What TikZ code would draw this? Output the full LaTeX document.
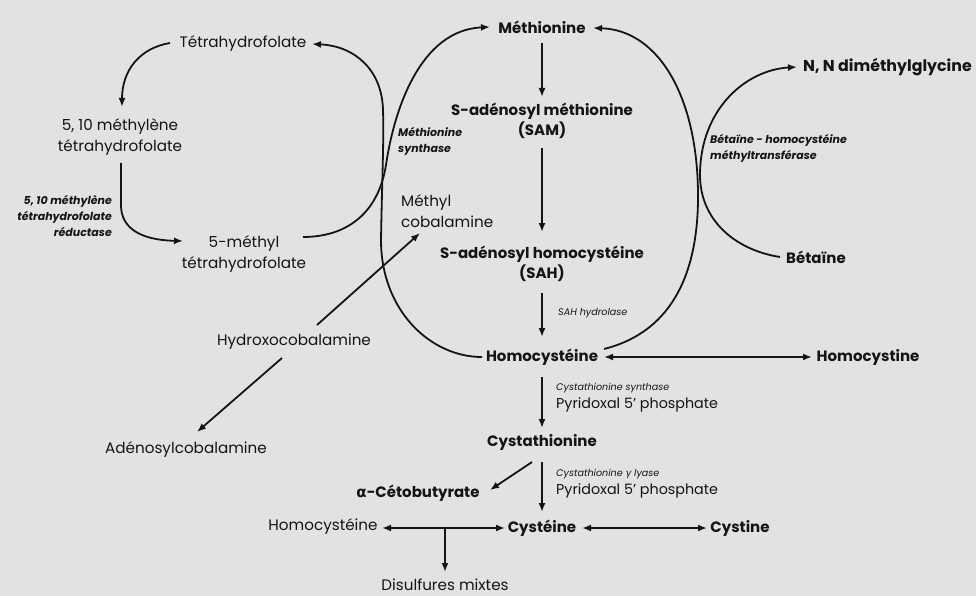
\documentclass[tikz,border=0pt]{standalone}
\usepackage{fontspec}
\setmainfont{Poppins}
\newfontfamily\grk{DejaVu Sans}
\usetikzlibrary{arrows.meta,calc}
\definecolor{paper}{RGB}{226,226,226}
\definecolor{ink}{RGB}{20,20,20}
\begin{document}
\begin{tikzpicture}[x=1pt,y=-1pt,
  every node/.style={text=ink, inner sep=1pt},
  reg/.style={font=\fontsize{15.2}{21}\selectfont, align=center},
  bld/.style={font=\fontsize{15}{20}\selectfont\bfseries, align=center},
  itl/.style={font=\fontsize{9.6}{16}\selectfont\itshape, align=left},
  itb/.style={font=\fontsize{11}{16}\selectfont\itshape\bfseries},
  ln/.style={draw=ink, line width=1.8pt},
  arr/.style={ln, -{Latex[length=9pt,width=7pt]}},
  darr/.style={ln, {Latex[length=9pt,width=7pt]}-{Latex[length=9pt,width=7pt]}},
]
\fill[paper] (0,0) rectangle (976,596);
\useasboundingbox (0,0) rectangle (976,596);

% folate cycle
\node[reg] (thf) at (243,44) {Tétrahydrofolate};
\node[reg] (m510) at (120,137) {5, 10 méthylène\\tétrahydrofolate};
\node[reg] (m5) at (244,254) {5-méthyl\\tétrahydrofolate};
\node[itb, align=right, anchor=east] (red) at (113,216) {5, 10 méthylène\\tétrahydrofolate\\réductase};
\node[itb, align=left, anchor=west] (ms) at (397,141) {Méthionine\\synthase};
\node[reg, align=left, anchor=west] (mcob) at (400,211) {Méthyl\\cobalamine};
\node[reg] (hydroxo) at (294,342) {Hydroxocobalamine};
\node[reg] (adeno) at (186,450) {Adénosylcobalamine};

% central column
\node[bld] (meth) at (542,27) {Méthionine};
\node[bld] (sam) at (542,121) {S-adénosyl méthionine\\(SAM)};
\node[bld] (sah) at (542,264) {S-adénosyl homocystéine\\(SAH)};
\node[itl, anchor=west] (sahh) at (557,313) {SAH hydrolase};
\node[bld] (hcys) at (542,357) {Homocystéine};
\node[bld] (hcyn) at (868,357) {Homocystine};
\node[anchor=west, align=left, font=\fontsize{14.3}{18}\selectfont] (cs) at (555,398)
  {{\fontsize{9.6}{16}\selectfont\itshape Cystathionine synthase}\\Pyridoxal 5' phosphate};
\node[bld] (cysta) at (542,442) {Cystathionine};
\node[anchor=west, align=left, font=\fontsize{14.3}{18}\selectfont] (cgl) at (555,484)
  {{\fontsize{9.6}{16}\selectfont\itshape Cystathionine {\grk\itshape γ} lyase}\\Pyridoxal 5' phosphate};
\node[bld] (aket) at (418,493) {{\grk\bfseries α}-Cétobutyrate};
\node[bld] (cys) at (542,528) {Cystéine};
\node[bld] (cysn) at (740,528) {Cystine};
\node[reg] (hcys2) at (323,527) {Homocystéine};
\node[reg] (dis) at (445,585) {Disulfures mixtes};

% betaine
\node[bld, anchor=west, font=\fontsize{15.8}{20}\selectfont\bfseries] (nn) at (802,67) {N, N diméthylglycine};
\node[bld, anchor=west] (bet) at (785,257) {Bétaïne};
\node[itb, align=left, anchor=west] (bhmt) at (709,148) {Bétaïne - homocystéine\\méthyltransférase};

% column arrows
\draw[arr] ($(meth)+(0,16)$) -- ($(sam)+(0,-24)$);
\draw[arr] ($(sam)+(0,27)$) -- ($(sah)+(0,-32)$);
\draw[arr] ($(sah)+(0,29)$) -- ($(hcys)+(0,-20)$);
\draw[arr] ($(hcys)+(0,20)$) -- ($(cysta)+(0,-14)$);
\draw[arr] ($(cysta)+(0,20)$) -- ($(cys)+(0,-16)$);
\draw[arr] ($(cysta)+(-10,20)$) -- ($(aket)+(72,-3)$);
\draw[darr] ($(hcys)+(62,0)$) -- ($(hcyn)+(-56,0)$);
\draw[darr] ($(cys)+(40,0)$) -- ($(cysn)+(-33,0)$);
\draw[darr] ($(hcys2)+(59,1)$) -- ($(cys)+(-37,0)$);
\coordinate (br) at ($(hcys2)+(122,1)$);
\draw[arr] (br) -- ($(dis)+(0,-13)$);

% cobalamin arrows
\draw[arr] ($(hydroxo)+(23,-17)$) -- ($(mcob.west)+(20,22)$);
\draw[arr] ($(hydroxo)+(-12,16)$) -- ($(adeno)+(11,-18)$);

% folate arrows
\draw[arr] ($(thf)+(-73,-1)$) .. controls (140,48) and (122,70) .. ($(m510)+(2,-30)$);
\draw[arr] ($(m510)+(1,26)$) -- (121,205) .. controls (121,228) and (140,240) .. ($(m5)+(-61,-13)$);

% big curves
\draw[arr] ($(hcys)+(-60,0)$) .. controls (430,357) and (381,310) .. (381,240)
  .. controls (382,180) and (384,140) .. (383,110)
  .. controls (382,70) and (355,46) .. ($(thf)+(69,0)$);
\draw[arr] ($(m5)+(59,-17)$) .. controls (345,237) and (378,215) .. (386,165)
  .. controls (394,110) and (420,30) .. ($(meth)+(-52,0)$);
\draw[arr] ($(hcys)+(62,-8)$) .. controls (660,335) and (697,290) .. (698,200)
  .. controls (699,100) and (660,30) .. ($(meth)+(51,1)$);
\draw[arr] ($(bet.west)+(-5,0)$) .. controls (735,250) and (700,220) .. (700,175)
  .. controls (700,110) and (745,70) .. ($(nn.west)+(-5,0)$);
\end{tikzpicture}
\end{document}
